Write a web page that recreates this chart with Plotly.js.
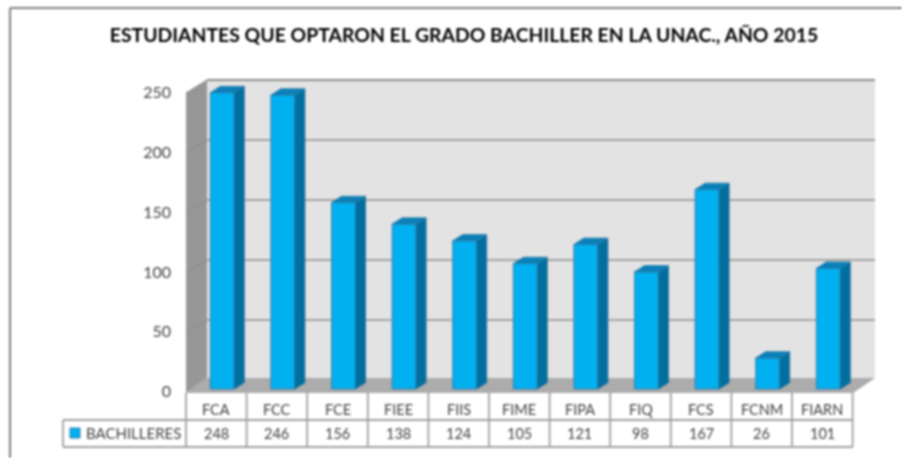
<!DOCTYPE html>
<html><head><meta charset="utf-8">
<script src="https://cdn.plot.ly/plotly-3.0.1.min.js"></script>
<style>html,body{margin:0;padding:0;background:#fff}#c{width:902px;height:458px;filter:blur(0.8px)}</style>
</head><body><div id="c"></div>
<script>
const categories = ["FCA","FCC","FCE","FIEE","FIIS","FIME","FIPA","FIQ","FCS","FCNM","FIARN"];
const bachilleres = [248,246,156,138,124,105,121,98,167,26,101];
const seriesName = "BACHILLERES";
const yTicks = [0,50,100,150,200,250];
const titleText = "ESTUDIANTES QUE OPTARON EL GRADO BACHILLER EN LA UNAC., AÑO 2015";

// plot frame in page pixels and 3D projection, converted to axis units
const L=186,R=876,T=78,B=395,catW=60.6,unitH=1.195,zeroPx=391.5;
const W=902,H=458;
const xr=[-0.5,-0.5+(R-L)/catW], yr=[(zeroPx-B)/unitH,(zeroPx-T)/unitH];
const dXu=1/catW, dYu=1/unitH;
const PX=p=>(p-L)/(R-L), PY=p=>(B-p)/(B-T);
const barOff=6*dXu, barW=24*dXu, sideX=10*dXu, sideY=6.3*dYu;
const baseLift=2.5*dYu; // bars stand 2.5px behind the plane of the tick labels

const sx=[],sy=[],tx=[],ty=[];
bachilleres.forEach((v,i)=>{
  const a=i+barOff-barW/2,b=i+barOff+barW/2,z=baseLift,t=v+baseLift;
  sx.push(b,b+sideX,b+sideX,b,b,null); sy.push(z,z+sideY,t+sideY,t,z,null);
  tx.push(a,a+sideX,b+sideX,b,a,null); ty.push(t,t+sideY,t+sideY,t,t,null);
});
const poly=(pts,fill)=>({type:'path',xref:'paper',yref:'paper',layer:'below',line:{width:0},fillcolor:fill,
  path:'M'+pts.map(q=>PX(q[0])+','+PY(q[1])).join('L')+'Z'});
const line=(x0,y0,x1,y1,c,w)=>({type:'line',xref:'paper',yref:'paper',layer:'below',x0:PX(x0),y0:PY(y0),x1:PX(x1),y1:PY(y1),line:{color:c,width:w}});
const shapes=[
  poly([[207,80],[875,80],[875,378],[207,378]],'#e3e3e3'),
  poly([[186,93],[207,80],[207,378],[186,393]],'#979797'),
  poly([[186,393],[207,378],[875,378],[853,393]],'#acacac')
];
yTicks.forEach(v=>{
  const yb=380-1.2*v, yf=yb+13;
  if(v>0&&v<250){shapes.push(line(207,yb,875,yb,'#a3a3a3',1.8));shapes.push(line(186,yf,207,yb,'#8a8a8a',1));}
});
shapes.push(line(207,80,875,80,'#8c8c8c',1.8));
shapes.push(line(186,93,207,80,'#8c8c8c',1));
// data table
const tc='#a0a0a0';
for(let i=0;i<=categories.length;i++){const x=L+i*catW;shapes.push(line(x,393,x,447,tc,1.8));}
shapes.push(line(63,420,853,420,tc,1.8));
shapes.push(line(63,447,853,447,tc,1.8));
shapes.push(line(63,420,63,447,tc,1.8));
shapes.push(Object.assign(poly([[70,428],[80,428],[80,438],[70,438]],'#00b0f0'),{layer:'above',line:{color:'#3a7ca8',width:1}}));
// outer chart frame
shapes.push(line(10,8,10,458,'#808080',2));
shapes.push(line(10,8,902,8,'#808080',2));

const annFont={family:'Lato, Carlito, sans-serif',size:14.5,color:'#404040'};
const ann=bachilleres.map((v,i)=>({xref:'paper',yref:'paper',x:PX(L+(i+.5)*catW),y:PY(433.5),text:String(v),showarrow:false,font:annFont,xanchor:'center',yanchor:'middle'}));
categories.forEach((c,i)=>ann.push({xref:'paper',yref:'paper',x:PX(L+(i+.5)*catW),y:PY(409.5),text:c,showarrow:false,font:annFont,xanchor:'center',yanchor:'middle'}));
ann.push({xref:'paper',yref:'paper',x:PX(84),y:PY(433),text:seriesName,showarrow:false,font:Object.assign({},annFont,{size:15}),xanchor:'left',yanchor:'middle'});

const traces=[
 {type:'scatter',mode:'lines',x:sx,y:sy,fill:'toself',fillcolor:'#006f9f',line:{color:'#2f6f98',width:0.8},hoverinfo:'skip',showlegend:false,cliponaxis:false},
 {type:'scatter',mode:'lines',x:tx,y:ty,fill:'toself',fillcolor:'#0a7fb8',line:{color:'#2f7fa8',width:0.8},hoverinfo:'skip',showlegend:false,cliponaxis:false},
 {type:'bar',name:seriesName,x:categories.map((c,i)=>i+barOff),y:bachilleres,base:baseLift,width:barW,marker:{color:'#00b0f0',line:{color:'#3f7fae',width:1}},showlegend:false,cliponaxis:false}
];
Plotly.newPlot('c',traces,{
  width:W,height:H,paper_bgcolor:'#fff',plot_bgcolor:'rgba(0,0,0,0)',showlegend:false,
  margin:{l:L,r:W-R,t:T,b:H-B,pad:0},
  title:{text:'<b>'+titleText+'</b>',x:464/W,y:1-35/H,xanchor:'center',yanchor:'middle',font:{family:'Lato, Carlito, sans-serif',size:19.4,color:'#000'}},
  xaxis:{range:xr,showgrid:false,zeroline:false,showline:false,showticklabels:false,ticks:'',fixedrange:true},
  yaxis:{range:yr,showgrid:false,zeroline:false,showline:false,tickmode:'array',tickvals:yTicks,ticktext:yTicks.map(String),ticks:'',ticklabelstandoff:14,tickfont:{family:'Lato, Carlito, sans-serif',size:16,color:'#404040'},fixedrange:true},
  shapes:shapes,annotations:ann
},{displayModeBar:false,staticPlot:true});
</script></body></html>
